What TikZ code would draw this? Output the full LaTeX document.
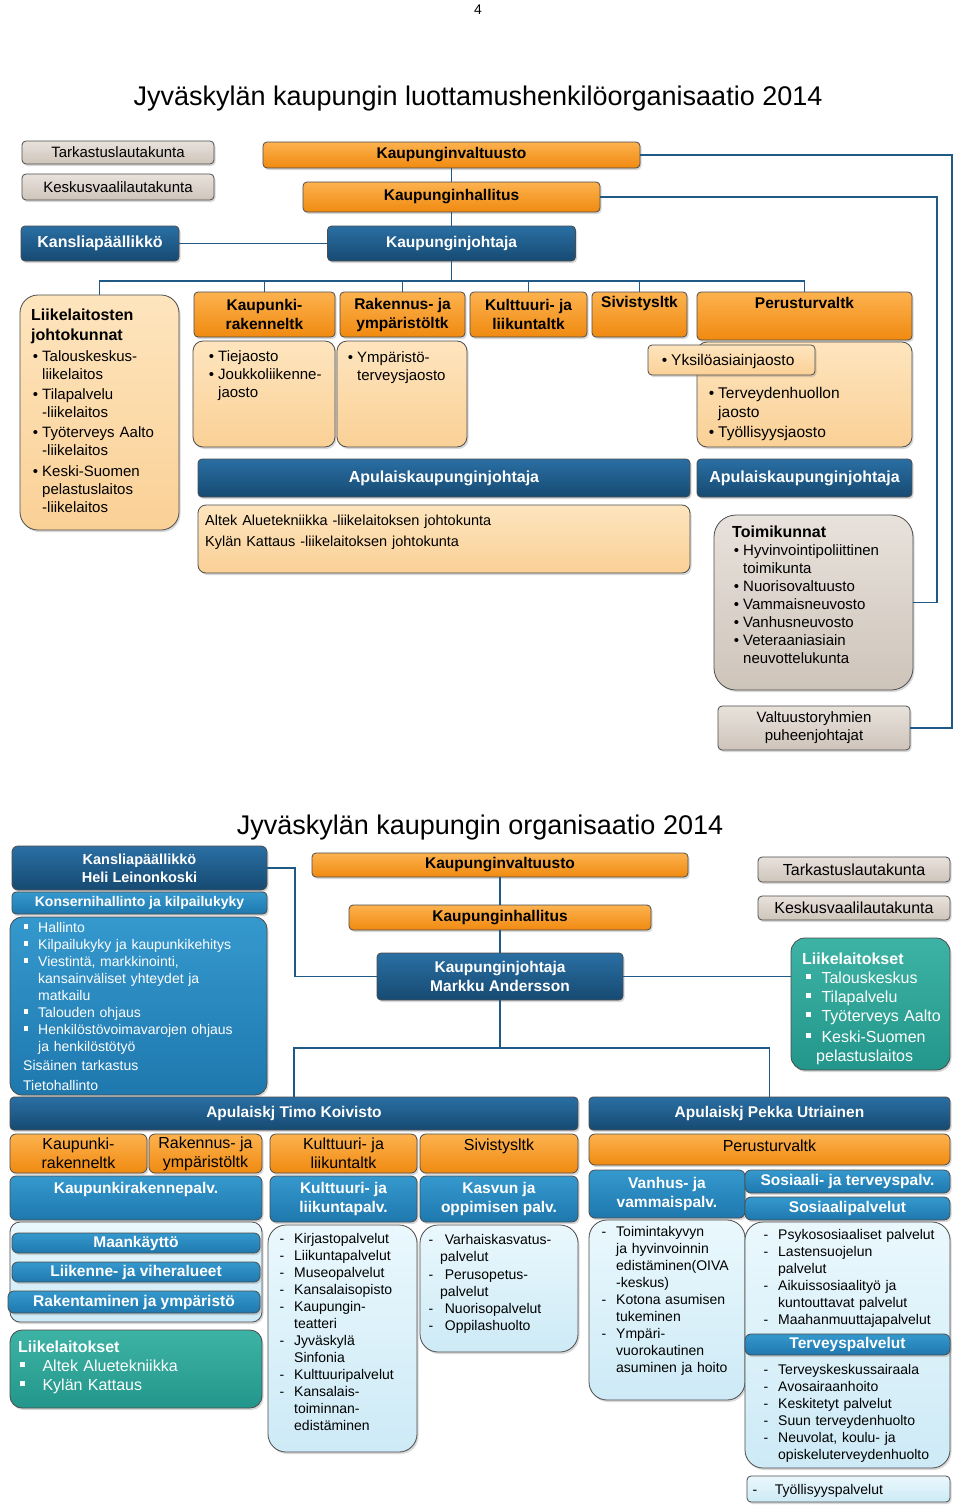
\documentclass[tikz,border=0pt]{standalone}
\usepackage{fontspec}
\setmainfont{Liberation Sans}
\usetikzlibrary{shadows}

\definecolor{orT}{HTML}{FDB24F}
\definecolor{orB}{HTML}{F08A10}
\definecolor{blT}{HTML}{2A6FA3}
\definecolor{blB}{HTML}{164A72}
\definecolor{beT}{HTML}{FEE5BE}
\definecolor{beB}{HTML}{FAD096}
\definecolor{grT}{HTML}{E8E2DC}
\definecolor{grB}{HTML}{CEC4BA}
\definecolor{mbT}{HTML}{3599CE}
\definecolor{mbB}{HTML}{1E78AE}
\definecolor{tlT}{HTML}{3DB3A5}
\definecolor{tlB}{HTML}{22968A}
\definecolor{lbT}{HTML}{EAF8FD}
\definecolor{lbB}{HTML}{CDEAF6}
\definecolor{linkblue}{HTML}{1F5A86}

\newcommand\bul[1][4pt]{\leavevmode\llap{\textbullet\hspace{#1}}}
\newcommand\dsh[1][10pt]{\leavevmode\llap{-\hspace{#1}}}
\newcommand\sqb[1][10pt]{\leavevmode\llap{\rule[0.22em]{0.32em}{0.32em}\hspace{#1}}}

\begin{document}
\begin{tikzpicture}[x=1pt, y=-1pt,
    conn/.style={draw=linkblue, line width=1.6pt},
    box/.style={draw=black!70, line width=0.8pt, rounded corners=4pt, inner sep=1pt, align=center,
        drop shadow={shadow xshift=1.5pt, shadow yshift=-2pt, opacity=0.3}},
    orangebox/.style={box, top color=orT, bottom color=orB, font=\fontsize{15.5}{19}\selectfont\bfseries},
    orange2/.style={box, rounded corners=6pt, top color=orT, bottom color=orB, font=\fontsize{16}{19}\selectfont},
    bluebox/.style={box, top color=blT, bottom color=blB, text=white, font=\fontsize{15.5}{19}\selectfont\bfseries},
    beigebox/.style={box, top color=beT, bottom color=beB},
    graybox/.style={box, top color=grT, bottom color=grB, font=\fontsize{15}{18}\selectfont},
    midbox/.style={box, top color=mbT, bottom color=mbB, text=white, font=\fontsize{14}{18}\selectfont\bfseries},
    midbox2/.style={midbox, rounded corners=6pt, font=\fontsize{15.5}{19}\selectfont\bfseries},
    tealbox/.style={box, top color=tlT, bottom color=tlB},
    lightbox/.style={box, top color=lbT, bottom color=lbB},
    txt/.style={anchor=base west, inner sep=0pt, align=left, text width=#1},
    headtxt/.style={inner sep=0pt, font=\fontsize{15.5}{19}\selectfont\bfseries},
    head2/.style={inner sep=0pt, font=\fontsize{16}{19}\selectfont},
    mhead/.style={inner sep=0pt, text=white, font=\fontsize{15.5}{19}\selectfont\bfseries},
    listA/.style={font=\fontsize{15}{18}\selectfont},
    listB/.style={font=\fontsize{15.5}{19}\selectfont},
    listW/.style={font=\fontsize{14}{17}\selectfont, text=white},
    listT/.style={font=\fontsize{16}{19}\selectfont, text=white},
    listD/.style={font=\fontsize{14}{17}\selectfont}
  ]
  \path[fill=white, use as bounding box] (0,0) rectangle (960,1509);

  % luottamushenkilöorganisaatio
  \node[font=\fontsize{14}{16}\selectfont] (pagenum) at (478,10) {4};
  \node[font=\fontsize{27}{32}\selectfont] (title1) at (478,99) {Jyväskylän kaupungin luottamushenkilöorganisaatio 2014};

  \node[graybox, minimum width=192, minimum height=23] (tark) at (118,152.5) {Tarkastuslautakunta};
  \node[graybox, minimum width=192, minimum height=26] (kesk) at (118,187) {Keskusvaalilautakunta};
  \node[orangebox, minimum width=377, minimum height=26] (valt) at (451.5,155) {Kaupunginvaltuusto};
  \node[orangebox, minimum width=297, minimum height=30] (hall) at (451.5,197) {Kaupunginhallitus};
  \node[bluebox, minimum width=158, minimum height=35, font=\fontsize{16}{19}\selectfont\bfseries] (kansl) at (100,243.5) {Kansliapäällikkö};
  \node[bluebox, minimum width=248, minimum height=35] (joht) at (451.5,243.5) {Kaupunginjohtaja};

  \node[beigebox, rounded corners=18pt, minimum width=159, minimum height=235] (liik) at (99.5,412.5) {};
  \node[txt=150pt, font=\fontsize{16}{20}\selectfont\bfseries] (liikhead) at (31,320) {Liikelaitosten\\johtokunnat};
  \node[txt=135pt, listA] (liiklist) at (42,361) {\bul Talouskeskus-\\liikelaitos\\[2pt]\bul Tilapalvelu\\-liikelaitos\\[2pt]\bul Työterveys Aalto\\-liikelaitos\\[3pt]\bul Keski-Suomen\\pelastuslaitos\\-liikelaitos};

  \node[orangebox, minimum width=141, minimum height=45] (kr) at (264.5,314.5) {Kaupunki-\\rakenneltk};
  \node[orangebox, minimum width=125, minimum height=45] (rak) at (402.5,314.5) {Rakennus- ja\\ympäristöltk};
  \node[orangebox, minimum width=117, minimum height=45] (kult) at (528.5,314.5) {Kulttuuri- ja\\liikuntaltk};
  \node[orangebox, minimum width=95, minimum height=45] (siv) at (639.5,314.5) {};
  \node[headtxt] (sivt) at (639.5,303) {Sivistysltk};
  \node[orangebox, minimum width=215, minimum height=48] (perus) at (804.5,316) {};
  \node[headtxt] (perust) at (804.5,303) {Perusturvaltk};

  \node[beigebox, rounded corners=10pt, minimum width=142, minimum height=106] (krlist) at (264,394) {};
  \node[txt=125pt, listA] (krlistt) at (218,361) {\bul Tiejaosto\\\bul Joukkoliikenne-\\jaosto};
  \node[beigebox, rounded corners=10pt, minimum width=130, minimum height=106] (raklist) at (402,394) {};
  \node[txt=110pt, listA] (raklistt) at (357,362) {\bul Ympäristö-\\terveysjaosto};
  \node[beigebox, rounded corners=10pt, minimum width=215, minimum height=105] (peruslist) at (804.5,394.5) {};
  \node[txt=185pt, listB] (peruslistt) at (718,398) {\bul Terveydenhuollon\\jaosto\\[1pt]\bul Työllisyysjaosto};
  \node[beigebox, minimum width=167, minimum height=30] (yks) at (731.5,360) {};
  \node[txt=150pt, listB] (ykst) at (671,365.5) {\bul Yksilöasiainjaosto};

  \node[bluebox, minimum width=492, minimum height=38, font=\fontsize{16}{19}\selectfont\bfseries] (apu1) at (444,478) {Apulaiskaupunginjohtaja};
  \node[bluebox, minimum width=215, minimum height=38, font=\fontsize{16}{19}\selectfont\bfseries] (apu2) at (804.5,478) {Apulaiskaupunginjohtaja};
  \node[beigebox, rounded corners=8pt, minimum width=492, minimum height=68] (altek) at (444,539) {};
  \node[txt=470pt, font=\fontsize{14.5}{21}\selectfont] (altekt) at (205,525) {Altek Aluetekniikka -liikelaitoksen johtokunta\\Kylän Kattaus -liikelaitoksen johtokunta};

  \node[graybox, rounded corners=22pt, minimum width=199, minimum height=175] (toim) at (813.5,602.5) {};
  \node[txt=180pt, font=\fontsize{16}{20}\selectfont\bfseries] (toimhead) at (732,537) {Toimikunnat};
  \node[txt=165pt, listA] (toimlist) at (743,555) {\bul Hyvinvointipoliittinen\\toimikunta\\\bul Nuorisovaltuusto\\\bul Vammaisneuvosto\\\bul Vanhusneuvosto\\\bul Veteraaniasiain\\neuvottelukunta};
  \node[graybox, minimum width=192, minimum height=44] (valtry) at (814,728) {Valtuustoryhmien\\puheenjohtajat};

  \coordinate (bus1) at (451.5,281);
  \coordinate (outerR) at (952,155);
  \coordinate (innerR) at (937,197);
  \draw[conn] (valt.south) -- (hall.north);
  \draw[conn] (hall.south) -- (joht.north);
  \draw[conn] (kansl.east) -- (joht.west);
  \draw[conn] (joht.south) -- (bus1);
  \foreach \n in {liik,kr,rak,kult,siv,perus}
    \draw[conn] (bus1) -| (\n.north);
  \draw[conn] (valt.east) -- (outerR) |- (valtry.east);
  \draw[conn] (hall.east) -- (innerR) |- (toim.east);

  % organisaatio
  \node[font=\fontsize{27}{32}\selectfont] (title2) at (480,828) {Jyväskylän kaupungin organisaatio 2014};

  \node[bluebox, rounded corners=6pt, minimum width=255, minimum height=44, font=\fontsize{14.5}{18}\selectfont\bfseries] (kansl2) at (139.5,868) {Kansliapäällikkö\\Heli Leinonkoski};
  \node[midbox, minimum width=255, minimum height=22] (kons) at (139.5,903) {Konsernihallinto ja kilpailukyky};
  \node[midbox, rounded corners=12pt, minimum width=257, minimum height=178] (konsl) at (138.5,1006) {};
  \node[txt=228pt, listW] (konslt) at (38,932) {\sqb Hallinto\\\sqb Kilpailukyky ja kaupunkikehitys\\\sqb Viestintä, markkinointi,\\kansainväliset yhteydet ja\\matkailu\\\sqb Talouden ohjaus\\\sqb Henkilöstövoimavarojen ohjaus\\ja henkilöstötyö\\[2pt]\hspace*{-15pt}Sisäinen tarkastus\\[3pt]\hspace*{-15pt}Tietohallinto};

  \node[orangebox, minimum width=376, minimum height=24] (valt2) at (500,865) {Kaupunginvaltuusto};
  \node[orangebox, minimum width=302, minimum height=25] (hall2) at (500,917.5) {Kaupunginhallitus};
  \node[bluebox, minimum width=246, minimum height=47] (joht2) at (500,976.5) {Kaupunginjohtaja\\Markku Andersson};
  \node[graybox, minimum width=192, minimum height=25, font=\fontsize{16}{18}\selectfont] (tark2) at (854,869.5) {Tarkastuslautakunta};
  \node[graybox, minimum width=192, minimum height=24, font=\fontsize{16}{18}\selectfont] (kesk2) at (854,908) {Keskusvaalilautakunta};
  \node[tealbox, rounded corners=14pt, minimum width=159, minimum height=132] (liik2) at (870.5,1004) {};
  \node[txt=150pt, text=white, font=\fontsize{16}{19}\selectfont\bfseries] (liik2h) at (802,964) {Liikelaitokset};
  \node[txt=130pt, listT] (liik2l) at (816,983) {\sqb[5pt] Talouskeskus\\\sqb[5pt] Tilapalvelu\\\sqb[5pt] Työterveys Aalto\\[2pt]\sqb[5pt] Keski-Suomen\\pelastuslaitos};

  \node[bluebox, minimum width=568, minimum height=33] (apu3) at (294,1113.5) {Apulaiskj Timo Koivisto};
  \node[bluebox, minimum width=361, minimum height=33] (apu4) at (769.5,1113.5) {Apulaiskj Pekka Utriainen};

  \node[orange2, minimum width=137, minimum height=39] (okr) at (78.5,1153.5) {Kaupunki-\\rakenneltk};
  \node[orange2, minimum width=113, minimum height=39] (orak) at (205.5,1153.5) {Rakennus- ja\\ympäristöltk};
  \node[orange2, minimum width=147, minimum height=39] (okult) at (343.5,1153.5) {Kulttuuri- ja\\liikuntaltk};
  \node[orange2, minimum width=158, minimum height=39] (osiv) at (499,1153.5) {};
  \node[head2] (osivt) at (499,1146) {Sivistysltk};
  \node[orange2, minimum width=361, minimum height=31] (operus) at (769.5,1149.5) {};
  \node[head2] (operust) at (769.5,1146) {Perusturvaltk};

  \node[midbox2, minimum width=252, minimum height=44] (kpalv) at (136,1198) {};
  \node[mhead] (kpalvt) at (136,1189) {Kaupunkirakennepalv.};
  \node[midbox2, minimum width=147, minimum height=46] (kupalv) at (343.5,1199) {Kulttuuri- ja\\liikuntapalv.};
  \node[midbox2, minimum width=158, minimum height=46] (kapalv) at (499,1199) {Kasvun ja\\oppimisen palv.};
  \node[midbox2, minimum width=156, minimum height=48] (vpalv) at (667,1194) {Vanhus- ja\\vammaispalv.};
  \node[midbox2, minimum width=205, minimum height=23] (stpalv) at (847.5,1181.5) {Sosiaali- ja terveyspalv.};
  \node[midbox2, minimum width=205, minimum height=23] (spalv) at (847.5,1208.5) {Sosiaalipalvelut};

  \node[lightbox, rounded corners=10pt, minimum width=252, minimum height=100] (kcont) at (136,1272) {};
  \node[midbox2, minimum width=248, minimum height=20] (maan) at (136,1243) {Maankäyttö};
  \node[midbox2, minimum width=248, minimum height=20] (liikv) at (136,1272) {Liikenne- ja viheralueet};
  \node[midbox2, minimum width=252, minimum height=22] (rakymp) at (134,1302) {Rakentaminen ja ympäristö};

  \node[tealbox, rounded corners=12pt, minimum width=252, minimum height=78] (liik4) at (136,1369) {};
  \node[txt=200pt, text=white, font=\fontsize{16}{19}\selectfont\bfseries] (liik4h) at (18,1352) {Liikelaitokset};
  \node[txt=200pt, listT] (liik4l) at (37,1371) {\sqb[12pt] Altek Aluetekniikka\\\sqb[12pt] Kylän Kattaus};

  \node[lightbox, rounded corners=18pt, minimum width=149, minimum height=227] (kulist) at (342.5,1338.5) {};
  \node[txt=120pt, listD] (kulistt) at (294,1243) {\dsh Kirjastopalvelut\\\dsh Liikuntapalvelut\\\dsh Museopalvelut\\\dsh Kansalaisopisto\\\dsh Kaupungin-\\teatteri\\\dsh Jyväskylä\\Sinfonia\\\dsh Kulttuuripalvelut\\\dsh Kansalais-\\toiminnan-\\edistäminen};
  \node[lightbox, rounded corners=18pt, minimum width=158, minimum height=127] (kalist) at (499,1288.5) {};
  \node[txt=135pt, listD] (kalistt) at (440,1244) {\dsh[7pt] Varhaiskasvatus-\\palvelut\\[1pt]\dsh[7pt] Perusopetus-\\palvelut\\\dsh[7pt] Nuorisopalvelut\\\dsh[7pt] Oppilashuolto};
  \node[lightbox, rounded corners=18pt, minimum width=156, minimum height=180] (vlist) at (667,1310) {};
  \node[txt=128pt, listD] (vlistt) at (616,1236) {\dsh Toimintakyvyn\\ja hyvinvoinnin\\edistäminen(OIVA\\-keskus)\\\dsh Kotona asumisen\\tukeminen\\\dsh Ympäri-\\vuorokautinen\\asuminen ja hoito};
  \node[lightbox, rounded corners=18pt, minimum width=205, minimum height=246] (slist) at (847.5,1345) {};
  \node[txt=170pt, listD] (slistt) at (778,1239) {\dsh Psykososiaaliset palvelut\\\dsh Lastensuojelun\\palvelut\\\dsh Aikuissosiaalityö ja\\kuntouttavat palvelut\\\dsh Maahanmuuttajapalvelut};
  \node[midbox2, minimum width=205, minimum height=21] (terv) at (847.5,1344.5) {Terveyspalvelut};
  \node[txt=170pt, listD] (tervl) at (778,1374) {\dsh Terveyskeskussairaala\\\dsh Avosairaanhoito\\\dsh Keskitetyt palvelut\\\dsh Suun terveydenhuolto\\\dsh Neuvolat, koulu- ja\\opiskeluterveydenhuolto};
  \node[lightbox, minimum width=203, minimum height=26] (tyol) at (848.5,1489) {};
  \node[txt=175pt, listD] (tyolt) at (770,1494) {\dsh[13pt] Työllisyyspalvelut};

  \coordinate (kanslbend) at (295,920);
  \coordinate (bus2) at (500,1048);
  \draw[conn] (valt2.south) -- (hall2.north);
  \draw[conn] (hall2.south) -- (joht2.north);
  \draw[conn] (kansl2.east) -| (kanslbend) |- (joht2.west);
  \draw[conn] (joht2.east) -- (joht2.east -| liik2.west);
  \draw[conn] (joht2.south) -- (bus2);
  \draw[conn] (bus2) -| (apu3.north);
  \draw[conn] (bus2) -| (apu4.north);
\end{tikzpicture}
\end{document}
